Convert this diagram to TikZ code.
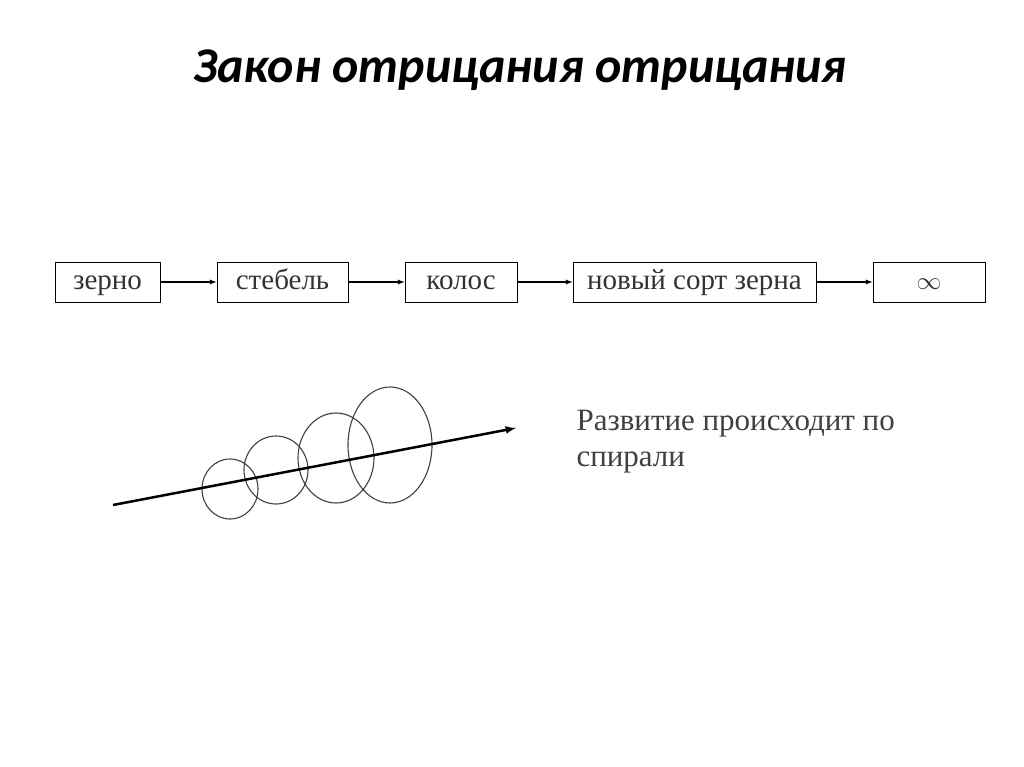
\documentclass[tikz,border=0pt]{standalone}
\usepackage{fontspec}
\setmainfont{Liberation Serif}
\newfontfamily\titlefont{Carlito}
\begin{document}
\begin{tikzpicture}[x=1pt,y=-1pt,
  bx/.style={draw,line width=1pt,minimum height=40pt,inner sep=0pt,text height=18pt,text depth=4pt,font=\fontsize{29}{32}\selectfont,text=black!80},
  ar/.style={-latex,line width=1.3pt},
  ell/.style={draw,line width=1.1pt,black!75}]
\useasboundingbox[fill=white] (0,0) rectangle (1024,767);
\node[font=\titlefont\bfseries\itshape\fontsize{50}{56}\selectfont] (title) at (520,70) {Закон отрицания отрицания};
\node[bx,minimum width=105pt] (b1) at (107.5,282) {зерно};
\node[bx,minimum width=131pt] (b2) at (282.5,282) {стебель};
\node[bx,minimum width=112pt] (b3) at (461,282) {колос};
\node[bx,minimum width=243pt] (b4) at (694.5,282) {новый сорт зерна};
\node[bx,minimum width=112pt] (b5) at (929,282) {$\infty$};
\draw[ar] (b1) -- (b2);
\draw[ar] (b2) -- (b3);
\draw[ar] (b3) -- (b4);
\draw[ar] (b4) -- (b5);
\draw[ell] (230,489) ellipse (28 and 30);
\draw[ell] (276,470) ellipse (32 and 34);
\draw[ell] (336,458) ellipse (38 and 45);
\draw[ell] (390,445) ellipse (42 and 58);
\coordinate (s) at (113,505);
\coordinate (e) at (516,428);
\draw[-latex,line width=2.5pt] (s) -- (e);
\node[anchor=west,align=left,text=black!75,font=\fontsize{31}{36}\selectfont] (t) at (573,442) {Развитие происходит по\\спирали};
\end{tikzpicture}
\end{document}
